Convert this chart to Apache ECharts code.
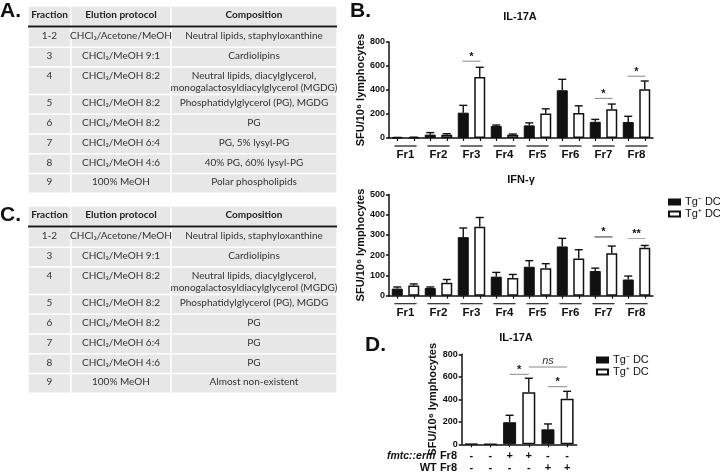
<!DOCTYPE html>
<html><head><meta charset="utf-8">
<script src="https://cdn.jsdelivr.net/npm/echarts@6/dist/echarts.min.js"></script>
<style>html,body{margin:0;padding:0;background:#fff}#c{width:720px;height:474px}</style>
</head><body><div id="c"></div>
<script>
// ---------- data ----------
const fractions = ['Fr1','Fr2','Fr3','Fr4','Fr5','Fr6','Fr7','Fr8'];
const il17Neg    = [3, 28, 211, 100, 105, 398, 135, 133];
const il17NegErr = [5, 45, 272, 108, 126, 489, 155, 181];
const il17Pos    = [5, 28, 509, 27, 205, 209, 239, 406];
const il17PosErr = [7, 36, 589, 33, 243, 268, 283, 475];
const il17Sig = [[2, 640, '*'], [6, 330, '*'], [7, 515, '*']];

const ifnNeg    = [35, 38, 289, 94, 143, 243, 122, 80];
const ifnNegErr = [43, 43, 334, 115, 173, 283, 136, 97];
const ifnPos    = [50, 64, 340, 87, 135, 184, 210, 237];
const ifnPosErr = [58, 80, 386, 105, 158, 227, 245, 248];
const ifnSig = [[6, 290, '*'], [7, 282, '**']];

const dFmtc = ['-','-','+','+','-','-'];
const dWT   = ['-','-','-','-','+','+'];
const dNeg    = [3, null, 196, null, 133, null];
const dNegErr = [null, null, 258, null, 181, null];
const dPos    = [null, 3, null, 462, null, 406];
const dPosErr = [null, null, null, 587, null, 471];
const dSig = [[2, 3, 622, '*'], [3, 5, 687, 'ns'], [4, 5, 512, '*']];

const tableHeaders = ['Fraction', 'Elution protocol', 'Composition'];
const tableFractions = ['1-2', '3', '4', '5', '6', '7', '8', '9'];
const tableElution = ['CHCl\u2083/Acetone/MeOH', 'CHCl\u2083/MeOH 9:1', 'CHCl\u2083/MeOH 8:2', 'CHCl\u2083/MeOH 8:2',
  'CHCl\u2083/MeOH 8:2', 'CHCl\u2083/MeOH 6:4', 'CHCl\u2083/MeOH 4:6', '100% MeOH'];
const tableAComposition = ['Neutral lipids, staphyloxanthine', 'Cardiolipins',
  'Neutral lipids, diacylglycerol,\nmonogalactosyldiacylglycerol (MGDG)', 'Phosphatidylglycerol (PG), MGDG',
  'PG', 'PG, 5% lysyl-PG', '40% PG, 60% lysyl-PG', 'Polar phospholipids'];
const tableCComposition = ['Neutral lipids, staphyloxanthine', 'Cardiolipins',
  'Neutral lipids, diacylglycerol,\nmonogalactosyldiacylglycerol (MGDG)', 'Phosphatidylglycerol (PG), MGDG',
  'PG', 'PG', 'PG', 'Almost non-existent'];

const NEG = 'Tg\u207B DC', POS = 'Tg\u207A DC';
const YNAME = 'SFU/10\u2076 lymphocytes';

// ---------- styles ----------
const FONT = '"Liberation Sans", Arial, Helvetica, sans-serif';
const TFONT = 'Lato, "Open Sans", sans-serif';
const INK = '#111';

function measure(s, font) {
  const ctx = document.createElement('canvas').getContext('2d');
  ctx.font = font;
  return ctx.measureText(s).width;
}

function yAx(grid, max, interval, gap) {
  return {type:'value', gridIndex:grid, min:0, max:max, interval:interval,
    name:YNAME, nameLocation:'middle', nameGap:gap, nameRotate:90, nameMoveOverlap:false,
    nameTextStyle:{fontSize:11, fontWeight:'bold', color:INK, fontFamily:FONT},
    axisLine:{show:true, lineStyle:{color:INK, width:1.5}},
    axisTick:{show:true, length:3, lineStyle:{color:INK, width:1.5}},
    axisLabel:{fontSize:9, fontWeight:'bold', color:INK, margin:4, fontFamily:FONT},
    splitLine:{show:false}};
}
function frAx(grid, margin, lh) {
  return {type:'category', gridIndex:grid, position:'bottom', data:fractions,
    axisLine:{show:true, onZero:false, lineStyle:{color:INK, width:1.5}},
    axisTick:{show:false},
    axisLabel:{interval:0, margin:margin, color:INK,
      formatter: v => '{u|}\n{t|' + v + '}',
      rich:{u:{width:22, height:0, lineHeight:2, borderColor:'#222', borderWidth:0.8},
            t:{fontSize:11.5, fontWeight:'bold', lineHeight:lh, fontFamily:FONT, color:INK}}}};
}
function tickAx(grid) {
  const d = []; fractions.forEach(f => { d.push(f + 'a'); d.push(f + 'b'); });
  return {type:'category', gridIndex:grid, position:'bottom', data:d,
    axisLine:{show:false}, axisLabel:{show:false},
    axisTick:{show:true, alignWithLabel:true, interval:0, length:3, lineStyle:{color:INK, width:1.2}}};
}
function barS(name, data, xi, yi, black, w, gap) {
  return {type:'bar', name:name, xAxisIndex:xi, yAxisIndex:yi, data:data, barWidth:w, barGap:gap,
    itemStyle: black ? {color:'#111', borderColor:'#111', borderWidth:1}
                     : {color:'#fff', borderColor:'#111', borderWidth:1.5}};
}
function errS(vals, errs, offset, xi, yi) {
  const data = [];
  vals.forEach((v, i) => { if (v != null && errs[i] != null) data.push([i, v, errs[i]]); });
  return {type:'custom', xAxisIndex:xi, yAxisIndex:yi, silent:true, z:3, encode:{x:0, y:[1,2]}, data:data,
    renderItem(params, api) {
      const b = api.coord([api.value(0), api.value(1)]);
      const t = api.coord([api.value(0), api.value(2)]);
      const x = b[0] + offset;
      const st = {stroke:INK, lineWidth:1.4};
      return {type:'group', children:[
        {type:'line', shape:{x1:x, y1:b[1], x2:x, y2:t[1]}, style:st},
        {type:'line', shape:{x1:x-4, y1:t[1], x2:x+4, y2:t[1]}, style:st}]};
    }};
}
function txt(x, y, s, font, fill, align) {
  return {type:'text', x:x, y:y, silent:true, style:{text:s, font:font, fill:fill || INK,
    align:align || 'center', verticalAlign:'middle', textAlign:align || 'center', textVerticalAlign:'middle'}};
}
function sigS(sig, colors, xi, yi) {
  return {type:'custom', xAxisIndex:xi, yAxisIndex:yi, silent:true, z:4, encode:{x:0, y:1},
    data: sig.map(s => [s[0], s[1]]),
    renderItem(params, api) {
      const c = api.coord([api.value(0), api.value(1)]);
      const lab = sig[params.dataIndex][2];
      return {type:'group', children:[
        {type:'line', shape:{x1:c[0]-9, y1:c[1], x2:c[0]+9, y2:c[1]}, style:{stroke:colors[params.dataIndex], lineWidth:1}},
        txt(c[0], c[1]-4.5, lab, 'bold 11px ' + FONT)]};
    }};
}
function sigD(sig, xi, yi) {
  return {type:'custom', xAxisIndex:xi, yAxisIndex:yi, silent:true, z:4, encode:{x:[0,1], y:2},
    data: sig.map(s => [s[0], s[1], s[2]]),
    renderItem(params, api) {
      const a = api.coord([api.value(0), api.value(2)]);
      const b = api.coord([api.value(1), api.value(2)]);
      const lab = sig[params.dataIndex][3];
      const isNs = lab === 'ns';
      return {type:'group', children:[
        {type:'line', shape:{x1:a[0], y1:a[1], x2:b[0], y2:b[1]}, style:{stroke:'#888', lineWidth:1}},
        isNs ? txt((a[0]+b[0])/2, a[1]-6, lab, 'italic 11px ' + FONT, '#333')
             : txt((a[0]+b[0])/2, a[1]-4.5, lab, 'bold 11px ' + FONT)]};
    }};
}

// ---------- tables ----------
function tableEls(top, comps) {
  const els = [];
  const cols = [28, 71, 171, 337];
  const centers = [49.5, 121, 254];
  const fill = '#e7e7e7';
  const rect = (x, y, w, h, f) => ({type:'rect', silent:true, shape:{x:x, y:y, width:w, height:h}, style:{fill:f}});
  for (let c = 0; c < 3; c++) els.push(rect(cols[c]+0.75, top, cols[c+1]-cols[c]-1.5, 18.8, fill));
  tableHeaders.forEach((h, c) => els.push(txt(centers[c], top+8, h, 'bold 10px ' + TFONT, '#222')));
  els.push(rect(cols[0], top+18.8, cols[3]-cols[0], 2, '#1a1a1a'));
  let y = top + 20.8;
  const bf = '10px ' + TFONT;
  tableFractions.forEach((f, r) => {
    const lines = comps[r].split('\n');
    const h = lines.length > 1 ? 27.6 : 19.75;
    for (let c = 0; c < 3; c++) els.push(rect(cols[c]+0.75, y+0.75, cols[c+1]-cols[c]-1.5, h-1.5, fill));
    els.push(txt(centers[0], y+8.5, f, bf, '#333'));
    els.push(txt(centers[1], y+8.5, tableElution[r], bf, '#333'));
    lines.forEach((ln, k) => els.push(txt(centers[2], y+8.5+12*k, ln, bf, '#333')));
    y += h;
  });
  return els;
}

const rowFont = 'bold 11px ' + FONT;
const fr8W = measure(' Fr8', rowFont) + 1.5;

const graphics = [].concat(
  tableEls(6.7, tableAComposition),
  tableEls(206.7, tableCComposition),
  [
    txt(0, 11, 'A.', 'bold 21px ' + FONT, INK, 'left'),
    txt(350, 11, 'B.', 'bold 21px ' + FONT, INK, 'left'),
    txt(0, 215, 'C.', 'bold 21px ' + FONT, INK, 'left'),
    txt(365, 345, 'D.', 'bold 21px ' + FONT, INK, 'left'),
    txt(520, 17, 'IL-17A', 'bold 11px ' + FONT),
    txt(521, 180, 'IFN-\u03B3', 'bold 11px ' + FONT),
    txt(516, 338, 'IL-17A', 'bold 11px ' + FONT),
    txt(457, 456, 'Fr8', rowFont, INK, 'right'),
    txt(457 - fr8W, 456, 'fmtc::erm', 'italic bold 10.5px ' + FONT, INK, 'right'),
    txt(457, 467.7, 'WT Fr8', rowFont, INK, 'right')
  ]);

// ---------- option ----------
const legendBase = {data:[NEG, POS], orient:'vertical', itemWidth:11, itemHeight:5, itemGap:0, icon:'rect',
  selectedMode:false, padding:0, textStyle:{fontSize:11, color:INK, lineHeight:12, fontFamily:FONT}};

const option = {
  animation:false,
  backgroundColor:'#fff',
  textStyle:{fontFamily:FONT},
  grid:[
    {left:389, top:42, width:264, height:96, containLabel:false, outerBoundsMode:'none'},
    {left:389, top:194.4, width:264, height:101.3, containLabel:false, outerBoundsMode:'none'},
    {left:461.7, top:354.3, width:115, height:90, containLabel:false, outerBoundsMode:'none'}
  ],
  xAxis:[
    frAx(0, 7, 15), tickAx(0),
    frAx(1, 7, 16), tickAx(1),
    {type:'category', gridIndex:2, position:'bottom', data:dFmtc.map((_, i) => 'c' + i),
      axisLine:{show:true, lineStyle:{color:INK, width:1.5}},
      axisTick:{show:true, alignWithLabel:true, interval:0, length:3, lineStyle:{color:INK, width:1.2}},
      axisLabel:{interval:0, margin:6, fontSize:11, fontWeight:'bold', color:INK, lineHeight:11.6, fontFamily:FONT,
        formatter:(v, i) => dFmtc[i] + '\n' + dWT[i]}}
  ],
  yAxis:[yAx(0, 800, 200, 23), yAx(1, 500, 100, 23), yAx(2, 800, 200, 23)],
  legend:[
    Object.assign({left:668, top:196}, legendBase),
    Object.assign({left:596, top:354}, legendBase)
  ],
  series:[
    barS(NEG, il17Neg, 0, 0, true, 11, '50%'),
    barS(POS, il17Pos, 0, 0, false, 11, '50%'),
    errS(il17Neg, il17NegErr, -8.25, 0, 0),
    errS(il17Pos, il17PosErr, 8.25, 0, 0),
    sigS(il17Sig, ['#888', '#888', '#888'], 0, 0),

    barS(NEG, ifnNeg, 2, 1, true, 11, '50%'),
    barS(POS, ifnPos, 2, 1, false, 11, '50%'),
    errS(ifnNeg, ifnNegErr, -8.25, 2, 1),
    errS(ifnPos, ifnPosErr, 8.25, 2, 1),
    sigS(ifnSig, ['#333', '#aaa'], 2, 1),

    barS(NEG, dNeg, 4, 2, true, 13, '-100%'),
    barS(POS, dPos, 4, 2, false, 13, '-100%'),
    errS(dNeg, dNegErr, 0, 4, 2),
    errS(dPos, dPosErr, 0, 4, 2),
    sigD(dSig, 4, 2)
  ],
  graphic:{elements:graphics}
};

const chart = echarts.init(document.getElementById('c'), null, {renderer:'canvas', width:720, height:474});
chart.setOption(option);
</script>
</body></html>
